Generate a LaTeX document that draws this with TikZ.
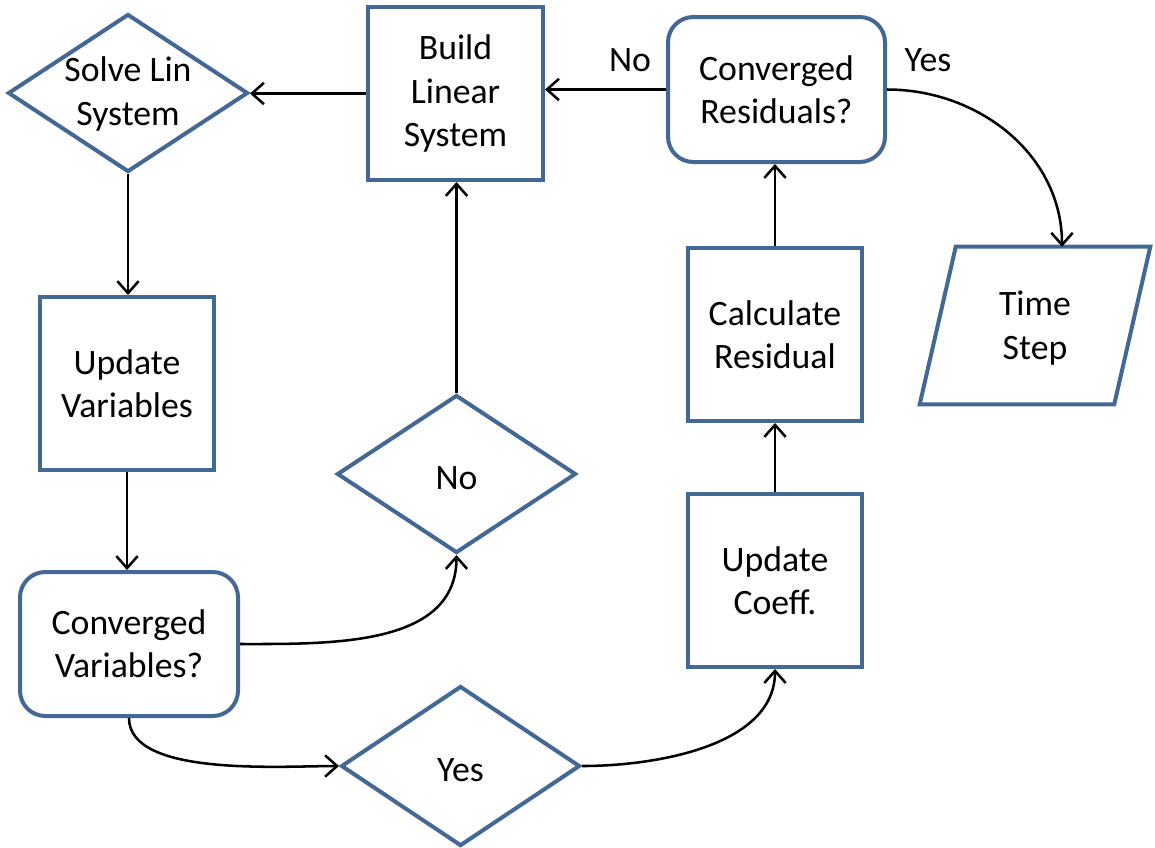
\documentclass[tikz,border=0pt]{standalone}
\usepackage{fontspec}
\setmainfont{Carlito}
\usetikzlibrary{arrows.meta,shapes.geometric}
\definecolor{bord}{RGB}{68,104,150}
\begin{document}
\begin{tikzpicture}[x=0.75pt,y=-0.75pt,
  every node/.style={font=\fontsize{26.8}{32.5}\selectfont, align=center, inner sep=0pt},
  boxs/.style={draw=bord, line width=3pt, fill=white, minimum width=#1},
  rbox/.style={draw=bord, line width=3pt, fill=white, rounded corners=19pt},
  dia/.style={draw=bord, line width=3pt, fill=white, diamond, inner sep=0pt},
  arr/.style={line width=1.9pt, -{Straight Barb[length=9pt,width=16pt,line width=1.9pt]}}]
\useasboundingbox (0,0) rectangle (1155,847);

% boxes
\node (build) [boxs=131.25pt, minimum height=129.75pt] at (455.5,93.5) {Build\\Linear\\System};
\node (cr) [rbox, minimum width=162.75pt, minimum height=108.75pt] at (776.5,89.5) {Converged\\Residuals?};
\node (uv) [boxs=130.5pt, minimum height=129.75pt] at (127,383.5) {Update\\Variables};
\node (calc) [boxs=130.5pt, minimum height=129.75pt] at (775,334.5) {Calculate\\Residual};
\node (uc) [boxs=130.5pt, minimum height=129.75pt] at (775,580.5) {Update\\Coeff.};
\node (cv) [rbox, minimum width=163.5pt, minimum height=108pt] at (129,644) {Converged\\Variables?};

% diamonds
\node (solve) [dia, minimum width=180pt, minimum height=118.5pt] at (128,93) {};
\node (solvet) at (128,94) {Solve Lin\\System};
\node (nod) [dia, minimum width=179.25pt, minimum height=118.5pt] at (456.5,474) {};
\node (nodt) at (456.5,478) {No};
\node (yes) [dia, minimum width=179.25pt, minimum height=120pt] at (460.5,766) {};
\node (yest) at (460.5,770) {Yes};

% time step parallelogram
\node (ts) [minimum width=172.5pt, minimum height=117.75pt] at (1035,325.5) {};
\draw[bord, line width=3pt, line join=miter]
  ([xshift=27pt]ts.north west) -- (ts.north east) -- ([xshift=-27pt]ts.south east) -- (ts.south west) -- cycle;
\node (tst) at (1035,328) {Time\\Step};
\coordinate (tstop) at ([xshift=20.25pt]ts.north);

% labels
\node (lno) at (630,60) {No};
\node (lyes) at (928,60) {Yes};

% connectors
\draw[arr] (build.west) -- (build.west -| solve.east);
\draw[arr] (cr.west) -- (cr.west -| build.east);
\draw[arr] (cr.east) to[out=0,in=90] (tstop);
\draw[arr] (calc.north) -- (calc.north |- cr.south);
\draw[arr] (uc.north) -- (calc.south);
\draw[arr] (solve.south) -- (solve.south |- uv.north);
\draw[arr] (uv.south) -- (uv.south |- cv.north);
\draw[arr] (nod.north) -- (nod.north |- build.south);
\draw[arr] (cv.east) to[out=0,in=-90] (nod.south);
\draw[arr] (cv.south) to[out=-90,in=180,looseness=0.7] (yes.west);
\draw[arr] (yes.east) to[out=0,in=-90,looseness=0.9] (uc.south);
\end{tikzpicture}
\end{document}
